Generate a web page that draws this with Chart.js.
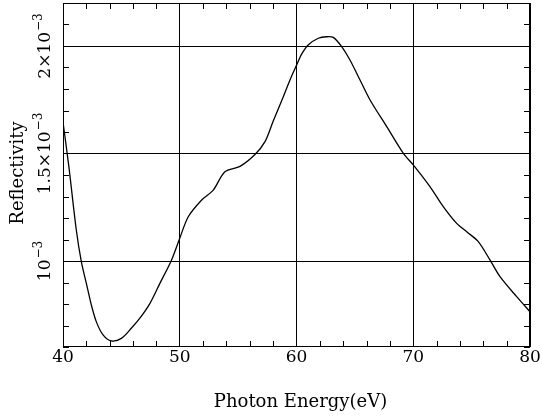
<!DOCTYPE html>
<html>
<head>
<meta charset="utf-8">
<script src="https://cdn.jsdelivr.net/npm/chart.js@4"></script>
<style>
  html, body { margin: 0; padding: 0; background: #fff; }
  #wrap { width: 542px; height: 418px; }
</style>
</head>
<body>
<div id="wrap"><canvas id="c" width="542" height="418"></canvas></div>
<script>
// ---- data ----
const energy = [40.0, 40.5, 41.14, 41.57, 42.0, 42.43, 42.85, 43.43, 44.14, 45.0, 45.85, 46.6, 47.45, 48.3, 49.3, 50.0,
                50.73, 51.88, 52.87, 53.87, 55.16, 56.44, 57.3, 58.0, 58.87, 59.44, 60.0, 60.44, 61.0, 61.87, 62.58,
                63.15, 63.87, 64.58, 65.44, 66.3, 67.73, 69.15, 70.0, 71.43, 72.57, 73.72, 74.58, 75.57, 76.57,
                77.43, 78.86, 80.0];
const reflectivity = [1.646e-3, 1.44e-3, 1.144e-3, 0.997e-3, 0.896e-3, 0.795e-3, 0.718e-3, 0.656e-3, 0.628e-3,
                      0.640e-3, 0.687e-3, 0.735e-3, 0.803e-3, 0.896e-3, 1.005e-3, 1.106e-3, 1.206e-3, 1.284e-3,
                      1.330e-3, 1.415e-3, 1.440e-3, 1.495e-3, 1.555e-3, 1.650e-3, 1.764e-3, 1.842e-3, 1.910e-3,
                      1.962e-3, 2.005e-3, 2.036e-3, 2.043e-3, 2.040e-3, 1.997e-3, 1.935e-3, 1.842e-3, 1.749e-3,
                      1.625e-3, 1.501e-3, 1.447e-3, 1.346e-3, 1.253e-3, 1.175e-3, 1.136e-3, 1.090e-3, 1.005e-3,
                      0.927e-3, 0.834e-3, 0.764e-3];
const xTickValues = [40, 50, 60, 70, 80];
const xTickLabels = ['40', '50', '60', '70', '80'];
const yTickValues = [1.0e-3, 1.5e-3, 2.0e-3];
const yTickMantissa = ['10', '1.5×10', '2×10'];
const yTickExponent = ['−3', '−3', '−3'];
const xTitle = 'Photon Energy(eV)';
const yTitle = 'Reflectivity';

const FONT = '"DejaVu Serif", "Liberation Serif", serif';

function isMultiple(v, step) {
  const r = v / step;
  return Math.abs(r - Math.round(r)) < 1e-6;
}

const framePlugin = {
  id: 'frame',
  afterDraw(chart) {
    const ctx = chart.ctx;
    const a = chart.chartArea;
    const xs = chart.scales.x, ys = chart.scales.y;
    ctx.save();
    ctx.strokeStyle = '#000';
    ctx.lineWidth = 1;
    // box
    ctx.strokeRect(Math.round(a.left) + 0.5, Math.round(a.top) + 0.5,
                   Math.round(a.right - a.left) - 1, Math.round(a.bottom - a.top) - 1);
    // minor ticks
    const tl = 6;
    ctx.beginPath();
    xs.ticks.forEach(t => {
      if (isMultiple(t.value, 10)) return;
      const px = Math.round(xs.getPixelForValue(t.value)) + 0.5;
      ctx.moveTo(px, a.bottom); ctx.lineTo(px, a.bottom - tl);
      ctx.moveTo(px, a.top); ctx.lineTo(px, a.top + tl);
    });
    ys.ticks.forEach(t => {
      if (isMultiple(t.value, 5e-4)) return;
      const py = Math.round(ys.getPixelForValue(t.value)) + 0.5;
      ctx.moveTo(a.left, py); ctx.lineTo(a.left + tl, py);
      ctx.moveTo(a.right, py); ctx.lineTo(a.right - tl, py);
    });
    ctx.stroke();

    ctx.fillStyle = '#000';
    // x tick labels
    ctx.font = '17px ' + FONT;
    ctx.textAlign = 'center';
    ctx.textBaseline = 'alphabetic';
    xTickValues.forEach((v, i) => {
      ctx.fillText(xTickLabels[i], xs.getPixelForValue(v), a.bottom + 15);
    });
    // y tick labels (rotated, with superscript exponent)
    yTickValues.forEach((v, i) => {
      const py = ys.getPixelForValue(v);
      ctx.save();
      ctx.translate(a.left - 13, py);
      ctx.rotate(-Math.PI / 2);
      ctx.font = '17px ' + FONT;
      const w1 = ctx.measureText(yTickMantissa[i]).width;
      ctx.font = '12px ' + FONT;
      const w2 = ctx.measureText(yTickExponent[i]).width;
      const start = -(w1 + w2 + 1) / 2;
      ctx.textAlign = 'left';
      ctx.font = '17px ' + FONT;
      ctx.fillText(yTickMantissa[i], start, 0);
      ctx.font = '12px ' + FONT;
      ctx.fillText(yTickExponent[i], start + w1 + 1, -8);
      ctx.restore();
    });
    // axis titles
    ctx.font = '18px ' + FONT;
    ctx.textAlign = 'center';
    ctx.fillText(xTitle, (a.left + a.right) / 2 + 4, a.bottom + 60);
    ctx.save();
    ctx.translate(a.left - 40, (a.top + a.bottom) / 2 - 2);
    ctx.rotate(-Math.PI / 2);
    ctx.fillText(yTitle, 0, 0);
    ctx.restore();
    ctx.restore();
  }
};

new Chart(document.getElementById('c'), {
  type: 'line',
  data: {
    datasets: [{
      data: energy.map((e, i) => ({ x: e, y: reflectivity[i] })),
      borderColor: '#000',
      borderWidth: 1.3,
      pointRadius: 0,
      fill: false,
      tension: 0.3
    }]
  },
  options: {
    responsive: false,
    animation: false,
    layout: { padding: { left: 0, top: 3, right: 12, bottom: 0 } },
    plugins: { legend: { display: false }, tooltip: { enabled: false } },
    scales: {
      x: {
        type: 'linear', min: 40, max: 80,
        ticks: { display: false, stepSize: 2 },
        border: { display: false },
        grid: {
          drawTicks: false,
          lineWidth: 1,
          color: c => (c.tick && isMultiple(c.tick.value, 10)) ? '#000' : 'rgba(0,0,0,0)'
        },
        afterFit: s => { s.height = 71; }
      },
      y: {
        type: 'linear', min: 0.6e-3, max: 2.2e-3,
        ticks: { display: false, stepSize: 1e-4 },
        border: { display: false },
        grid: {
          drawTicks: false,
          lineWidth: 1,
          color: c => (c.tick && isMultiple(c.tick.value, 5e-4)) ? '#000' : 'rgba(0,0,0,0)'
        },
        afterFit: s => { s.width = 63; }
      }
    }
  },
  plugins: [framePlugin]
});
</script>
</body>
</html>
